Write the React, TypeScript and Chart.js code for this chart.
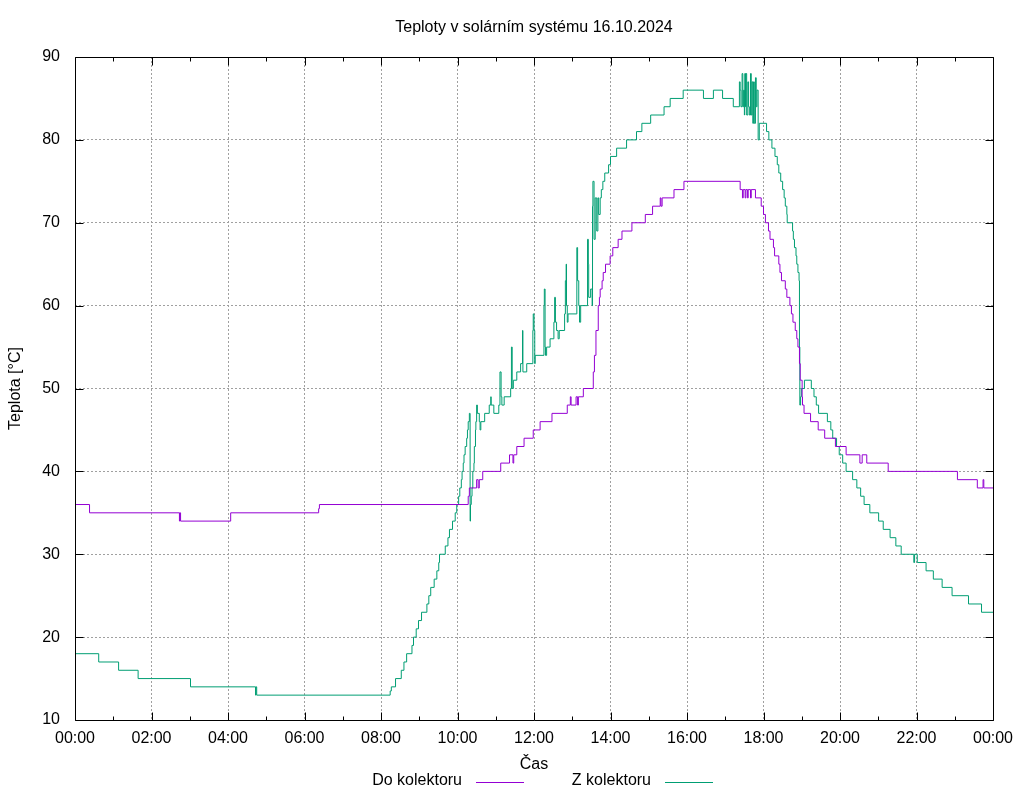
import React, { useEffect, useRef } from "react";
import { Chart, registerables } from "chart.js";

Chart.register(...registerables);

const TITLE = "Teploty v solárním systému 16.10.2024";
const X_TITLE = "Čas";
const Y_TITLE = "Teplota [°C]";
const SERIES_NAMES = ["Do kolektoru", "Z kolektoru"];
const SERIES_COLORS = ["#9400d3", "#009e73"];
const Y_MIN = 10;
const Y_MAX = 90;
const X_MIN = 0;
const X_MAX = 24;

// Do kolektoru: hour of day (decimal) where a new value starts, and the value
const doHours = [
  0.0, 0.38, 2.73, 2.74, 2.76, 4.07, 6.37, 6.39, 10.28, 10.31, 10.5, 10.54, 10.57, 10.66,
  11.13, 11.36, 11.45, 11.47, 11.55, 11.74, 11.98, 12.16, 12.47, 12.87, 12.95, 12.97,
  13.1, 13.14, 13.16, 13.29, 13.55, 13.58, 13.62, 13.68, 13.71, 13.73, 13.78, 13.81,
  13.87, 13.99, 14.06, 14.2, 14.3, 14.56, 14.91, 15.1, 15.3, 15.32, 15.35, 15.66, 15.92,
  17.39, 17.45, 17.47, 17.52, 17.54, 17.58, 17.6, 17.66, 17.68, 17.79, 17.94, 18.0,
  18.05, 18.13, 18.17, 18.26, 18.29, 18.4, 18.43, 18.47, 18.57, 18.61, 18.69, 18.73,
  18.77, 18.83, 18.87, 18.9, 18.94, 18.96, 19.01, 19.02, 19.06, 19.23, 19.43, 19.6,
  19.88, 20.16, 20.52, 20.58, 20.7, 21.26, 23.07, 23.59, 23.74, 23.76, 24.0,
];
const doTemps = [
  36, 35, 34, 35, 34, 35, 35.5, 36, 37, 38, 39, 38, 39, 40,
  41, 42, 41, 42, 43, 44, 45, 46, 47, 48, 49, 48,
  49, 48, 49, 50, 52, 54, 57, 60, 61, 62, 63, 64,
  65, 66, 67, 68, 69, 70, 71, 72, 73, 72, 73, 74, 75,
  74, 73, 74, 73, 74, 73, 74, 73, 74, 73, 72, 71,
  70, 69, 68, 67, 66, 65, 64, 63, 62, 61, 60, 59,
  58, 57, 56, 55, 53, 51, 49, 48, 47, 46, 45, 44,
  43, 42, 41, 42, 41, 40, 39, 38, 39, 38, 38,
];

// Z kolektoru
const zHours = [
  0.0, 0.62, 1.14, 1.65, 3.02, 4.72, 4.73, 4.75, 8.24, 8.27, 8.38, 8.53, 8.6, 8.67,
  8.81, 8.85, 8.92, 8.98, 9.06, 9.2, 9.25, 9.3, 9.39, 9.46, 9.51, 9.53, 9.68, 9.75,
  9.79, 9.87, 9.94, 9.98, 10.03, 10.06, 10.1, 10.12, 10.15, 10.17, 10.2, 10.24, 10.26,
  10.28, 10.31, 10.33, 10.34, 10.36, 10.38, 10.4, 10.43, 10.44, 10.47, 10.48, 10.5,
  10.52, 10.57, 10.59, 10.61, 10.71, 10.83, 10.87, 10.88, 10.95, 11.08, 11.11, 11.14,
  11.16, 11.22, 11.39, 11.41, 11.43, 11.46, 11.55, 11.65, 11.7, 11.71, 11.81, 11.97,
  11.98, 12.0, 12.02, 12.03, 12.26, 12.27, 12.29, 12.3, 12.33, 12.42, 12.52, 12.54,
  12.56, 12.59, 12.63, 12.66, 12.8, 12.82, 12.84, 12.85, 12.87, 12.89, 13.12, 13.14,
  13.17, 13.19, 13.22, 13.4, 13.42, 13.43, 13.48, 13.52, 13.53, 13.54, 13.57, 13.6,
  13.64, 13.67, 13.69, 13.73, 13.76, 13.8, 13.85, 13.95, 14.0, 14.16, 14.42, 14.68,
  14.82, 15.05, 15.4, 15.56, 15.9, 16.43, 16.69, 16.93, 17.21, 17.37, 17.39, 17.41,
  17.44, 17.46, 17.48, 17.5, 17.51, 17.53, 17.54, 17.56, 17.59, 17.61, 17.63, 17.66,
  17.68, 17.7, 17.72, 17.74, 17.76, 17.79, 17.81, 17.83, 17.86, 17.89, 18.08, 18.14,
  18.22, 18.3, 18.36, 18.4, 18.45, 18.5, 18.54, 18.57, 18.61, 18.62, 18.76, 18.78,
  18.81, 18.85, 18.87, 18.9, 18.93, 18.94, 18.95, 18.97, 18.99, 19.07, 19.25, 19.32,
  19.38, 19.44, 19.67, 19.76, 19.81, 19.91, 19.98, 20.07, 20.16, 20.33, 20.44, 20.54,
  20.63, 20.78, 21.01, 21.13, 21.31, 21.46, 21.6, 21.93, 21.95, 22.02, 22.25, 22.44,
  22.67, 22.93, 23.36, 23.7, 24.0,
];
const zTemps = [
  18, 17, 16, 15, 14, 13, 14, 13, 13.5, 14, 15, 16, 17, 18,
  19, 20, 21, 22, 23, 24, 25, 26, 27, 28, 29, 30, 31, 32,
  33, 34, 35, 36, 37, 38, 39, 40, 41, 42, 43, 44, 45,
  46, 47, 34, 36, 37, 38, 40, 41, 43, 45, 46, 48,
  47, 46, 45, 46, 47, 48, 49, 48, 47, 48, 52, 49,
  48, 49, 50, 55, 50, 51, 52, 53, 57, 52, 53, 57,
  59, 57, 53, 54, 60, 62, 55, 54, 55, 56, 58, 61,
  58, 57, 56, 57, 59, 63, 65, 60, 58, 59, 67, 63,
  60, 58, 60, 68, 65, 61, 62, 60, 72, 75, 68, 73,
  69, 73, 71, 73, 74, 75, 76, 77, 78, 79, 80, 81,
  82, 83, 84, 85, 86, 85, 86, 85, 84, 87, 86, 84,
  88, 84, 86, 83, 88, 84, 88, 83, 87, 84, 83, 88,
  83, 87, 82, 87, 82, 87.5, 84, 86, 80, 82, 81, 80,
  79, 78, 77, 76, 75, 74, 73, 72, 71, 70, 69, 68,
  67, 66, 65, 64, 63, 55, 48, 49, 50, 51, 50, 49,
  48, 47, 46, 45, 44, 43, 42, 41, 40, 39, 38, 37,
  36, 35, 34, 33, 32, 31, 30, 29, 30, 29, 28, 27,
  26, 25, 24, 23, 23,
];

const FONT = '"Liberation Sans", Arial, Helvetica, sans-serif';
const FONT_SIZE = 16;

function fmtHour(v: number): string {
  const h = Math.round(v) % 24;
  return (h < 10 ? "0" : "") + h + ":00";
}

const framePlugin = {
  id: "gnuFrame",
  afterDatasetsDraw(chart: any) {
    const { ctx, chartArea } = chart;
    const xs = chart.scales.x;
    const ys = chart.scales.y;
    const L = Math.round(chartArea.left) + 0.5;
    const R = Math.round(chartArea.right) + 0.5;
    const T = Math.round(chartArea.top) + 0.5;
    const B = Math.round(chartArea.bottom) + 0.5;
    ctx.save();
    ctx.strokeStyle = "#000";
    ctx.lineWidth = 1;
    ctx.beginPath();
    for (let h = X_MIN; h <= X_MAX; h += 1) {
      const px = Math.round(xs.getPixelForValue(h)) + 0.5;
      const len = h % 2 === 0 ? 8 : 4;
      ctx.moveTo(px, B);
      ctx.lineTo(px, B - len);
      ctx.moveTo(px, T);
      ctx.lineTo(px, T + len);
    }
    for (let v = Y_MIN; v <= Y_MAX; v += 10) {
      const py = Math.round(ys.getPixelForValue(v)) + 0.5;
      ctx.moveTo(L, py);
      ctx.lineTo(L + 8, py);
      ctx.moveTo(R, py);
      ctx.lineTo(R - 8, py);
    }
    ctx.moveTo(L, T);
    ctx.lineTo(R, T);
    ctx.lineTo(R, B);
    ctx.lineTo(L, B);
    ctx.closePath();
    ctx.stroke();

    // legend (text, then line sample)
    ctx.font = FONT_SIZE + "px " + FONT;
    ctx.fillStyle = "#000";
    ctx.textAlign = "right";
    ctx.textBaseline = "middle";
    const legendY = 781;
    const items = [
      { textRight: 462, lineStart: 476 },
      { textRight: 651, lineStart: 665 },
    ];
    items.forEach((it, i) => {
      ctx.fillText(SERIES_NAMES[i], it.textRight, legendY);
      ctx.beginPath();
      ctx.strokeStyle = SERIES_COLORS[i];
      ctx.moveTo(it.lineStart, legendY + 1.5);
      ctx.lineTo(it.lineStart + 48, legendY + 1.5);
      ctx.stroke();
    });
    ctx.restore();
  },
};

export default function App() {
  const ref = useRef<HTMLCanvasElement | null>(null);
  useEffect(() => {
    if (!ref.current) return;
    const chart = new Chart(ref.current, {
      type: "line",
      data: {
        datasets: [
          {
            label: SERIES_NAMES[0],
            data: doHours.map((h, i) => ({ x: h, y: doTemps[i] })),
            borderColor: SERIES_COLORS[0],
            borderWidth: 1,
            pointRadius: 0,
            stepped: "before",
            fill: false,
          },
          {
            label: SERIES_NAMES[1],
            data: zHours.map((h, i) => ({ x: h, y: zTemps[i] })),
            borderColor: SERIES_COLORS[1],
            borderWidth: 1,
            pointRadius: 0,
            stepped: "before",
            fill: false,
          },
        ],
      },
      plugins: [framePlugin],
      options: {
        responsive: false,
        animation: false,
        layout: { padding: { left: 0, right: 31, top: 0, bottom: 0 } },
        plugins: {
          legend: { display: false },
          tooltip: { enabled: false },
          title: {
            display: true,
            text: TITLE,
            color: "#000",
            fullSize: false,
            font: { family: FONT, size: FONT_SIZE, weight: "normal" },
            padding: { top: 18.4, bottom: 19.4 },
          },
        },
        scales: {
          x: {
            type: "linear",
            min: X_MIN,
            max: X_MAX,
            afterFit: (s: any) => {
              s.height = 80;
            },
            ticks: {
              stepSize: 1,
              autoSkip: false,
              maxRotation: 0,
              padding: 8.5,
              color: "#000",
              font: { family: FONT, size: FONT_SIZE },
              callback: (v: any) => (Number(v) % 2 === 0 ? fmtHour(Number(v)) : ""),
            },
            grid: {
              drawTicks: false,
              lineWidth: 1,
              color: (c: any) => {
                const v = c.tick ? c.tick.value : -1;
                return v % 2 === 0 && v > X_MIN && v < X_MAX ? "#a0a0a0" : "rgba(0,0,0,0)";
              },
            },
            border: { display: false, dash: [2, 2] },
            title: {
              display: true,
              text: X_TITLE,
              color: "#000",
              font: { family: FONT, size: FONT_SIZE },
              padding: { top: 0, bottom: 25.4 },
            },
          },
          y: {
            min: Y_MIN,
            max: Y_MAX,
            afterFit: (s: any) => {
              s.width = 75;
            },
            ticks: {
              stepSize: 10,
              padding: 15,
              color: "#000",
              font: { family: FONT, size: FONT_SIZE },
            },
            grid: {
              drawTicks: false,
              lineWidth: 1,
              color: (c: any) => {
                const v = c.tick ? c.tick.value : -1;
                return v > Y_MIN && v < Y_MAX ? "#a0a0a0" : "rgba(0,0,0,0)";
              },
            },
            border: { display: false, dash: [2, 2] },
            title: {
              display: true,
              text: Y_TITLE,
              color: "#000",
              font: { family: FONT, size: FONT_SIZE },
              padding: { top: 6.4, bottom: 0 },
            },
          },
        },
      } as any,
    });
    return () => chart.destroy();
  }, []);
  return (
    <div style={{ position: "absolute", left: 0, top: 0, width: 1024, height: 800, background: "#fff" }}>
      <canvas ref={ref} width={1024} height={800} style={{ display: "block" }} />
    </div>
  );
}
